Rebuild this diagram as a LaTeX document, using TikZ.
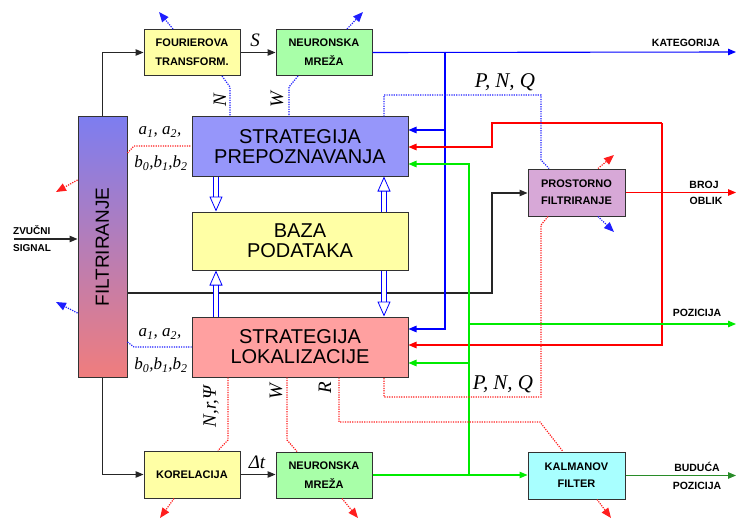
\documentclass[tikz,border=0pt]{standalone}
\usepackage{fontspec}
\setmainfont{Liberation Serif}
\setsansfont{Liberation Sans}
\usetikzlibrary{arrows.meta,calc}
\definecolor{cblue}{RGB}{0,0,255}
\definecolor{cred}{RGB}{255,0,0}
\definecolor{cgreen}{RGB}{0,235,0}
\definecolor{cdgreen}{RGB}{40,140,40}
\definecolor{dblue}{RGB}{30,30,255}
\definecolor{dred}{RGB}{255,30,30}
\definecolor{cborder}{RGB}{50,50,50}
\definecolor{fyellow}{RGB}{255,255,165}
\definecolor{fgreen}{RGB}{168,255,168}
\definecolor{fprep}{RGB}{150,150,250}
\definecolor{flok}{RGB}{255,160,160}
\definecolor{fpros}{RGB}{215,168,215}
\definecolor{fkal}{RGB}{168,255,255}
\definecolor{ftop}{RGB}{125,125,240}
\definecolor{fbot}{RGB}{240,125,125}
\begin{document}
\begin{tikzpicture}[x=1pt,y=-1pt,
  box/.style={draw=cborder, line width=1pt, inner sep=0pt, align=center},
  smallbox/.style={box, font=\sffamily\bfseries\fontsize{11}{19}\selectfont, minimum width=96pt, minimum height=46pt},
  bigbox/.style={box, font=\sffamily\fontsize{20}{20}\selectfont, minimum width=216pt},
  tip/.style={-{Triangle[length=8pt,width=6.5pt]}},
  dtip/.style={-{Triangle[length=10pt,width=8pt]}},
  solid blue/.style={draw=cblue, line width=1.1pt},
  solid red/.style={draw=cred, line width=1.1pt},
  solid green/.style={draw=cgreen, line width=1.1pt},
  solid black/.style={draw=black!85, line width=1.1pt},
  dotblue/.style={draw=dblue, line width=1.2pt, dash pattern=on 1.2pt off 1.2pt},
  dotred/.style={draw=dred, line width=1.2pt, dash pattern=on 1.2pt off 1.2pt},
  dblarrow/.style={draw=cblue, double=white, double distance=3.5pt, line width=0.8pt, -{Triangle[open,length=15pt,width=13pt]}},
  lab/.style={font=\fontsize{19}{19}\selectfont\itshape, inner sep=0pt},
  coef/.style={font=\fontsize{17}{17}\selectfont\itshape, inner sep=0pt},
  outlab/.style={font=\sffamily\bfseries\fontsize{10.5}{16}\selectfont, inner sep=0pt, align=center}
]
\useasboundingbox (0,0) rectangle (737,519);

% nodes
\node[smallbox, fill=fyellow] (four) at (192,52.5) {FOURIEROVA\\TRANSFORM.};
\node[smallbox, fill=fgreen] (nn1) at (324,52.5) {NEURONSKA\\MREŽA};
\node[box, minimum width=49pt, minimum height=260pt, top color=ftop, bottom color=fbot,
      font=\sffamily\fontsize{19}{19}\selectfont] (filt) at (102.5,247) {\rotatebox{90}{FILTRIRANJE}};
\node[bigbox, fill=fprep, minimum height=59pt] (prep) at (300,146.5) {STRATEGIJA\\PREPOZNAVANJA};
\node[bigbox, fill=fyellow, minimum height=58pt] (baza) at (300,241) {BAZA\\PODATAKA};
\node[bigbox, fill=flok, minimum height=60pt] (lok) at (300,347) {STRATEGIJA\\LOKALIZACIJE};
\node[smallbox, fill=fpros, minimum width=97pt, minimum height=47pt, font=\sffamily\bfseries\fontsize{11}{17}\selectfont] (pros) at (576.5,192.5) {PROSTORNO\\FILTRIRANJE};
\node[smallbox, fill=fyellow, minimum height=47pt] (kor) at (192,474.5) {KORELACIJA};
\node[smallbox, fill=fgreen] (nn2) at (324,475) {NEURONSKA\\MREŽA};
\node[smallbox, fill=fkal, minimum width=97pt, minimum height=47pt, font=\sffamily\bfseries\fontsize{11}{17}\selectfont] (kal) at (576.5,475.5) {KALMANOV\\FILTER};

% free ends
\coordinate (kat) at (736,52);
\coordinate (broj) at (736,192.5);
\coordinate (poz) at (736,324);
\coordinate (bud) at (736,475.5);
\coordinate (zin) at (14,239);

% output labels
\node[outlab] (tkat) at (686,43) {KATEGORIJA};
\node[outlab] (tbroj) at (704,185) {BROJ};
\node[outlab] (toblik) at (706,201) {OBLIK};
\node[outlab] (tpoz) at (697,313) {POZICIJA};
\node[outlab] (tbud) at (697,467) {BUDUĆA};
\node[outlab] (tpoz2) at (697,486) {POZICIJA};
\node[outlab, font=\sffamily\bfseries\fontsize{10}{12}\selectfont, anchor=west] (tzv) at (13,230) {ZVUČNI};
\node[outlab, font=\sffamily\bfseries\fontsize{10}{12}\selectfont, anchor=west] (tsig) at (13,248) {SIGNAL};

% black connectors
\draw[solid black, tip] (zin) -- (filt.west |- zin);
\draw[solid black, tip] (filt.north) -- (filt.north |- four.west) -- (four.west);
\draw[solid black, tip] (four.east) -- (nn1.west);
\draw[solid black, tip] (filt.south) -- (filt.south |- kor.west) -- (kor.west);
\draw[solid black, tip] (kor.east) -- (nn2.west |- kor.east);
\draw[solid black, tip] (filt.east |- 0,293) -- (492,293) -- (492,193) -- (pros.west |- 0,193);

% blue
\draw[solid blue, tip] (nn1.east) -- (kat);
\draw[solid blue, tip] (445,52) -- (445,329) -- (lok.east |- 0,329);
\draw[solid blue, tip] (445,130) -- (prep.east |- 0,130);

% red
\draw[solid red, tip] (pros.east) -- (broj);
\draw[solid red, tip] (662,123) -- (492,123) -- (492,147) -- (prep.east |- 0,147);
\draw[solid red, tip] (662,123) -- (662,345) -- (lok.east |- 0,345);

% green
\draw[solid green, tip] (nn2.east) -- (kal.west |- nn2.east);
\draw[solid green, tip] (469,475) -- (469,164) -- (prep.east |- 0,164);
\draw[solid green, tip] (469,363) -- (lok.east |- 0,363);
\draw[solid green, tip] (469,324) -- (poz);
\draw[draw=cdgreen, line width=1.1pt, tip] (kal.east) -- (bud);

% hollow double arrows
\draw[dblarrow] (prep.south -| 216,0) -- (baza.north -| 216,0);
\draw[dblarrow] (baza.north -| 384,0) -- (prep.south -| 384,0);
\draw[dblarrow] (lok.north -| 216,0) -- (baza.south -| 216,0);
\draw[dblarrow] (baza.south -| 384,0) -- (lok.north -| 384,0);

% dotted blue connectors
\draw[dotblue] (four.south -| 222,0) -- (230,87) -- (prep.north -| 230,0);
\draw[dotblue] (nn1.south -| 298,0) -- (289,87) -- (prep.north -| 289,0);
\draw[dotblue] (prep.north -| 384,0) -- (384,95) -- (541,95) -- (541,160) -- (pros.north -| 549,0);
\draw[dotblue] (filt.east |- 0,342) -- (134,347) -- (lok.west |- 0,347);

% dotted red connectors
\draw[dotred] (filt.east |- 0,153) -- (134,146) -- (prep.west |- 0,146);
\draw[dotred] (pros.south -| 548,0) -- (541,225) -- (541,397) -- (384,397) -- (lok.south -| 384,0);
\draw[dotred] (lok.south -| 339,0) -- (339,422) -- (540,422) -- (kal.north -| 563,0);
\draw[dotred] (lok.south -| 228,0) -- (228,440) -- (kor.north -| 218,0);
\draw[dotred] (lok.south -| 287,0) -- (287,440) -- (nn2.north -| 297,0);

% dotted arrow stubs
\coordinate (s1) at (159,12);
\coordinate (s2) at (363,12);
\coordinate (s3) at (56,192);
\coordinate (s4) at (56,302);
\coordinate (s5) at (614,155);
\coordinate (s6) at (614,232);
\coordinate (s7) at (160,518);
\coordinate (s8) at (358,518);
\coordinate (s9) at (611,518);
\draw[dotblue, dtip] (four.north -| 173,0) -- (s1);
\draw[dotblue, dtip] (nn1.north -| 347,0) -- (s2);
\draw[dotred, dtip] (filt.west |- 0,180) -- (s3);
\draw[dotblue, dtip] (filt.west |- 0,313) -- (s4);
\draw[dotred, dtip] (pros.north -| 598,0) -- (s5);
\draw[dotblue, dtip] (pros.south -| 598,0) -- (s6);
\draw[dotred, dtip] (kor.south -| 174,0) -- (s7);
\draw[dotred, dtip] (nn2.south -| 342,0) -- (s8);
\draw[dotred, dtip] (kal.south -| 597,0) -- (s9);

% italic labels
\node[lab] (lS) at (255,40) {S};
\node[lab] (lDt) at (257,462) {Δt};
\node[lab, rotate=90] (lN) at (220,100) {N};
\node[lab, rotate=90] (lW) at (277,100) {W};
\node[lab, font=\fontsize{21}{21}\selectfont\itshape] (lpnq1) at (505,82) {P, N, Q};
\node[lab, font=\fontsize{21}{21}\selectfont\itshape] (lpnq2) at (503,384) {P, N, Q};
\node[lab, rotate=90] (lR) at (325,388) {R};
\node[lab, rotate=90] (lW2) at (276,392) {W};
\node[lab, rotate=90] (lNr) at (211,407) {N,r,Ψ};
\node[coef] (la1) at (160,132) {a\textsubscript{1}, a\textsubscript{2},};
\node[coef] (lb1) at (161,163) {b\textsubscript{0},b\textsubscript{1},b\textsubscript{2}};
\node[coef] (la2) at (160,334) {a\textsubscript{1}, a\textsubscript{2},};
\node[coef] (lb2) at (161,365) {b\textsubscript{0},b\textsubscript{1},b\textsubscript{2}};
\end{tikzpicture}
\end{document}
